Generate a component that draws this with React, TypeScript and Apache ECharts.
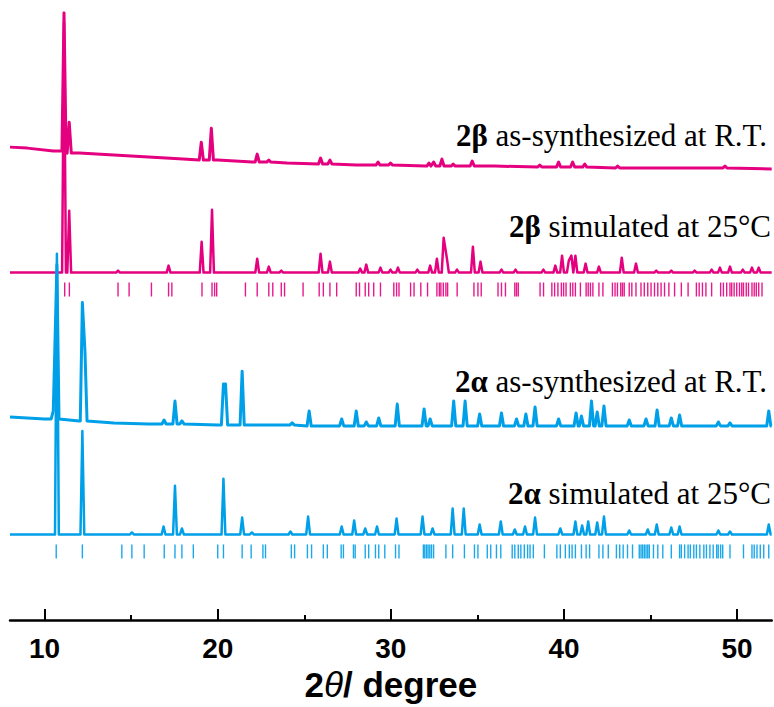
import React, { useEffect, useRef } from "react";
import * as echarts from "echarts";

// ---- axis ----
const X_MIN = 8;
const X_MAX = 52;
const majorTicks = [10, 20, 30, 40, 50];
const minorTicks = [15, 25, 35, 45];
const Y_MAX = 610;

// ---- 2β as-synthesized at R.T. (baseline readings [2θ, I] and peaks [2θ, height]) ----
const betaExpBaseline = [
  [8, 475], [9, 474], [10.5, 471], [12, 469], [14, 467], [16, 465], [18, 463], [20, 462],
  [22, 460], [24, 459], [26, 458], [28, 457], [32, 456], [36, 456], [40, 455], [44, 454], [48, 454], [52, 453],
];
const betaExpPeaks = [
  [11.12, 139], [11.42, 31], [19.05, 18], [19.63, 32], [22.28, 8], [22.95, 2], [25.94, 6],
  [26.48, 4], [29.26, 3], [29.98, 2], [32.2, 3], [32.47, 4], [32.95, 7], [33.6, 2], [34.7, 5],
  [38.6, 2], [39.69, 5], [40.5, 5], [41.2, 3], [43.1, 2], [49.3, 2],
];

// ---- 2β simulated at 25°C ----
const betaSimBaseline = [[8, 349], [52, 349]];
const betaSimPeaks = [
  [11.12, 251], [11.42, 62], [14.24, 2], [17.16, 7], [19.07, 31], [19.67, 63], [22.28, 14],
  [22.95, 6], [23.67, 2], [25.94, 19], [26.48, 11], [28.23, 4], [28.58, 8], [29.4, 5],
  [29.98, 3], [30.41, 5], [31.53, 3], [32.27, 7], [32.66, 14], [33.05, 35], [33.24, 14],
  [33.82, 3], [34.74, 26], [35.18, 11], [36.39, 3], [37.2, 3], [38.81, 3], [39.5, 7],
  [39.89, 17], [40.28, 12], [40.43, 17], [40.66, 17], [41.25, 9], [42.02, 6], [43.34, 15],
  [44.16, 9], [45.33, 2], [46.2, 2], [47.55, 2], [48.53, 3], [49.01, 5], [49.59, 6],
  [50.33, 3], [50.86, 5], [51.25, 5],
];
// 2β reflection positions
const betaReflections = [
  11.16, 11.43, 14.24, 14.88, 16.17, 17.16, 17.35, 19.09, 19.67, 19.82, 19.94, 21.6, 22.28,
  22.95, 23.18, 23.67, 23.86, 24.93, 25.86, 26.1, 26.48, 26.87, 28.0, 28.19, 28.52, 28.72,
  29.01, 29.4, 30.17, 30.33, 30.47, 31.14, 31.34, 31.73, 32.12, 32.66, 32.8, 32.89, 33.03,
  33.18, 33.28, 33.83, 34.8, 35.03, 35.22, 36.19, 36.39, 36.62, 37.16, 37.26, 37.36, 38.62,
  38.82, 39.3, 39.46, 39.65, 39.85, 39.98, 40.12, 40.37, 40.51, 40.66, 40.95, 41.28, 41.4,
  41.53, 41.67, 42.02, 42.25, 42.8, 42.95, 43.09, 43.28, 43.38, 43.48, 43.77, 43.92, 44.16,
  44.45, 44.64, 44.84, 45.03, 45.23, 45.42, 45.61, 45.81, 46.06, 46.39, 46.78, 47.17, 47.65,
  47.81, 48.0, 48.2, 48.53, 49.05, 49.21, 49.4, 49.59, 49.69, 49.83, 49.98, 50.14, 50.27,
  50.37, 50.53, 50.66, 50.86, 50.99, 51.11, 51.25, 51.44,
];
const betaReflectionLevel = 332;

// ---- 2α as-synthesized at R.T. ----
const alphaExpBaseline = [
  [8, 204], [10, 202], [12, 200], [14, 198], [16, 197], [20, 196], [30, 195], [40, 195], [52, 195],
];
const alphaExpPeaks = [
  [10.5, 8], [10.71, 155], [12.18, 119], [12.33, 70], [16.9, 4], [17.53, 23], [17.93, 3],
  [20.33, 41], [20.45, 41], [21.41, 54], [24.3, 2], [25.28, 15], [27.16, 7], [28.0, 15],
  [28.58, 4], [29.3, 8], [30.37, 22], [31.92, 17], [32.27, 7], [33.63, 25], [34.29, 25],
  [35.13, 12], [36.39, 13], [37.26, 7], [37.8, 12], [38.33, 19], [39.69, 7], [40.7, 13],
  [41.01, 10], [41.59, 25], [41.92, 14], [42.31, 20], [43.77, 6], [44.74, 7], [45.38, 16],
  [46.2, 8], [46.68, 11], [48.92, 4], [49.59, 3], [51.83, 15],
];

// ---- 2α simulated at 25°C ----
const alphaSimBaseline = [[8, 86], [52, 86]];
const alphaSimPeaks = [
  [10.71, 282], [12.18, 104], [15.04, 2], [16.87, 8], [17.53, 49], [17.93, 6], [20.33, 56],
  [21.41, 17], [21.97, 2], [24.2, 3], [25.22, 18], [27.16, 8], [27.88, 14], [28.52, 6],
  [29.2, 8], [30.33, 16], [31.83, 18], [32.41, 6], [33.57, 26], [34.21, 26], [35.13, 10],
  [36.35, 13], [37.16, 5], [37.75, 8], [38.33, 17], [39.79, 6], [40.66, 13], [41.05, 9],
  [41.4, 13], [41.92, 12], [42.31, 18], [43.77, 4], [44.84, 5], [45.36, 10], [46.2, 7],
  [46.68, 8], [48.92, 4], [49.59, 3], [51.83, 10],
];
// 2α reflection positions
const alphaReflections = [
  10.67, 12.18, 14.46, 15.04, 15.75, 16.91, 17.53, 17.93, 18.59, 20.0, 20.33, 21.41, 21.93,
  22.61, 22.76, 24.25, 24.44, 25.18, 25.42, 26.1, 26.33, 27.13, 27.26, 27.84, 27.94, 28.52,
  28.72, 29.11, 29.3, 29.65, 30.27, 30.47, 31.88, 31.96, 32.06, 32.15, 32.25, 32.35, 32.47,
  33.18, 33.57, 34.25, 34.83, 35.03, 35.57, 35.77, 36.1, 36.35, 37.01, 37.16, 37.36, 37.51,
  37.71, 37.9, 38.04, 38.23, 38.87, 39.59, 39.79, 40.08, 40.31, 40.47, 40.66, 41.01, 41.28,
  41.48, 42.02, 42.25, 42.56, 43.03, 43.22, 43.42, 43.67, 43.96, 44.35, 44.45, 44.54, 44.64,
  44.74, 44.84, 44.93, 45.17, 45.42, 45.71, 46.2, 46.68, 46.78, 46.97, 47.17, 47.3, 47.5,
  47.65, 47.85, 48.08, 48.23, 48.43, 48.62, 48.82, 48.91, 49.05, 49.17, 49.59, 50.37, 50.86,
  50.99, 51.15, 51.34, 51.54, 51.83,
];
const alphaReflectionLevel = 69;

const PINK = "#E4007F";
const BLUE = "#00A0E9";

// Build a line profile from baseline readings and peak readings (peak half-width w in 2θ)
function buildProfile(baseline: number[][], peaks: number[][], w: number) {
  const nearest = (x: number) =>
    baseline.reduce((a, b) => (Math.abs(b[0] - x) < Math.abs(a[0] - x) ? b : a))[1];
  const sorted = [...peaks].sort((a, b) => a[0] - b[0]);
  const peakPts: number[][] = [];
  sorted.forEach((p, i) => {
    const b = nearest(p[0]);
    const prev = sorted[i - 1];
    const next = sorted[i + 1];
    if (!prev || p[0] - prev[0] >= 2 * w) peakPts.push([p[0] - w, b]);
    peakPts.push([p[0], b + p[1]]);
    if (!next || next[0] - p[0] >= 2 * w) peakPts.push([p[0] + w, b]);
  });
  const basePts = baseline.filter(
    (bp) => !sorted.some((p) => bp[0] > p[0] - w && bp[0] < p[0] + w)
  );
  return [...basePts, ...peakPts].sort((a, b) => a[0] - b[0]);
}

const LABEL_SIZE = 31;
const labelRich = {
  b: { fontFamily: "Liberation Serif", fontSize: LABEL_SIZE, fontWeight: "bold", fill: "#000" },
  n: { fontFamily: "Liberation Serif", fontSize: LABEL_SIZE, fill: "#000" },
};

export default function App() {
  const ref = useRef<HTMLDivElement>(null);
  useEffect(() => {
    if (!ref.current) return;
    const chart = echarts.init(ref.current, undefined, { renderer: "svg" });

    const lineSeries = (name: string, data: number[][], color: string, width: number) => ({
      name,
      type: "line",
      data,
      showSymbol: false,
      symbol: "none",
      silent: true,
      lineStyle: { color, width, join: "round" },
      itemStyle: { color },
      emphasis: { disabled: true },
    });
    const tickSeries = (name: string, pos: number[], level: number, color: string) => ({
      name,
      type: "scatter",
      data: pos.map((p) => [p, level]),
      symbol: "rect",
      symbolSize: [1.4, 14],
      silent: true,
      itemStyle: { color, opacity: 0.9 },
      emphasis: { disabled: true },
    });

    const textEl = (bold: string, rest: string, right: number, y: number) => ({
      type: "text",
      x: right,
      y,
      silent: true,
      style: {
        text: `{b|${bold}}{n|${rest}}`,
        rich: labelRich,
        align: "right",
        verticalAlign: "middle",
        fontFamily: "Liberation Serif",
        fontSize: LABEL_SIZE,
        fill: "#000",
      },
    });

    chart.setOption({
      animation: false,
      grid: { left: 10, right: 2.3, top: 12.7, bottom: 84.3 },
      xAxis: [
        {
          type: "value",
          min: X_MIN,
          max: X_MAX,
          position: "bottom",
          splitLine: { show: false },
          axisLine: { show: true, lineStyle: { color: "#000", width: 2.5 } },
          axisTick: {
            show: true,
            inside: true,
            length: 11,
            customValues: majorTicks,
            lineStyle: { color: "#000", width: 2 },
          },
          axisLabel: {
            show: true,
            customValues: majorTicks,
            margin: 14,
            color: "#000",
            fontFamily: "Liberation Sans",
            fontWeight: "bold",
            fontSize: 28,
          },
          name: "{b|2}{t|θ}{b|/ degree}",
          nameLocation: "middle",
          nameGap: 36,
          nameTextStyle: {
            rich: {
              b: { fontFamily: "Liberation Sans", fontWeight: "bold", fontSize: 35, color: "#000" },
              t: { fontFamily: "Liberation Sans", fontStyle: "italic", fontSize: 35, color: "#000" },
            },
          },
        },
        {
          type: "value",
          min: X_MIN,
          max: X_MAX,
          position: "bottom",
          splitLine: { show: false },
          axisLine: { show: false },
          axisLabel: { show: false },
          axisTick: {
            show: true,
            inside: true,
            length: 5,
            customValues: minorTicks,
            lineStyle: { color: "#000", width: 2 },
          },
        },
      ],
      yAxis: { type: "value", min: 0, max: Y_MAX, show: false },
      series: [
        lineSeries("2β simulated at 25°C", buildProfile(betaSimBaseline, betaSimPeaks, 0.11), PINK, 2.5),
        lineSeries("2β as-synthesized at R.T.", buildProfile(betaExpBaseline, betaExpPeaks, 0.12), PINK, 3),
        tickSeries("2β reflections", betaReflections, betaReflectionLevel, PINK),
        lineSeries("2α as-synthesized at R.T.", buildProfile(alphaExpBaseline, alphaExpPeaks, 0.12), BLUE, 3),
        lineSeries("2α simulated at 25°C", buildProfile(alphaSimBaseline, alphaSimPeaks, 0.11), BLUE, 2.5),
        tickSeries("2α reflections", alphaReflections, alphaReflectionLevel, BLUE),
      ],
      graphic: [
        textEl("2β", " as-synthesized at R.T.", 767, 135),
        textEl("2β", " simulated at 25°C", 771, 226),
        textEl("2α", " as-synthesized at R.T.", 767, 381),
        textEl("2α", " simulated at 25°C", 771, 493),
      ],
    });
    return () => chart.dispose();
  }, []);

  return (
    <div
      ref={ref}
      style={{ position: "absolute", left: 0, top: 0, width: 774, height: 707, background: "#fff" }}
    />
  );
}
